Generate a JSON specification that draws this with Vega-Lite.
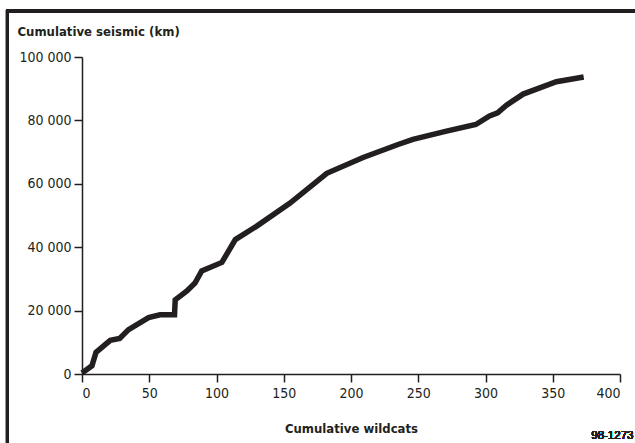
{
  "$schema": "https://vega.github.io/schema/vega-lite/v6.json",
  "autosize": "none",
  "width": 538,
  "height": 317,
  "padding": {"left": 82, "top": 57, "right": 15, "bottom": 69},
  "background": "white",
  "config": {
    "locale": {"number": {"decimal": ".", "thousands": " ", "grouping": [3], "currency": ["", ""]}},
    "view": {"stroke": null},
    "axis": {
      "grid": false,
      "domainColor": "#231f20",
      "domainWidth": 1.5,
      "tickColor": "#231f20",
      "tickWidth": 1.5,
      "tickSize": 8,
      "labelFont": "DejaVu Sans Condensed, Roboto, sans-serif",
      "labelFontSize": 14,
      "labelColor": "#231f20",
      "titleFont": "DejaVu Sans Condensed, Roboto, sans-serif",
      "titleFontSize": 13,
      "titleFontWeight": "bold",
      "titleColor": "#231f20"
    }
  },
  "data": {"values": [
    {"wildcats": 0, "seismic": 300},
    {"wildcats": 7.4, "seismic": 2600},
    {"wildcats": 10.4, "seismic": 6800},
    {"wildcats": 21, "seismic": 10600},
    {"wildcats": 28, "seismic": 11200},
    {"wildcats": 34.6, "seismic": 14000},
    {"wildcats": 49.5, "seismic": 17800},
    {"wildcats": 58, "seismic": 18700},
    {"wildcats": 68.8, "seismic": 18700},
    {"wildcats": 69.3, "seismic": 23400},
    {"wildcats": 78, "seismic": 26200},
    {"wildcats": 84, "seismic": 28700},
    {"wildcats": 89, "seismic": 32500},
    {"wildcats": 104, "seismic": 35200},
    {"wildcats": 114, "seismic": 42400},
    {"wildcats": 129.4, "seismic": 46500},
    {"wildcats": 154.7, "seismic": 53900},
    {"wildcats": 182, "seismic": 63300},
    {"wildcats": 209, "seismic": 68300},
    {"wildcats": 235, "seismic": 72400},
    {"wildcats": 246, "seismic": 74000},
    {"wildcats": 271, "seismic": 76600},
    {"wildcats": 292.8, "seismic": 78700},
    {"wildcats": 303, "seismic": 81400},
    {"wildcats": 309, "seismic": 82400},
    {"wildcats": 315.6, "seismic": 84800},
    {"wildcats": 328, "seismic": 88300},
    {"wildcats": 352.7, "seismic": 92200},
    {"wildcats": 373, "seismic": 93700}
  ]},
  "layer": [
    {
      "mark": {"type": "line", "color": "#231f20", "strokeWidth": 5.5, "strokeCap": "butt"},
      "encoding": {
        "x": {"field": "wildcats", "type": "quantitative",
          "scale": {"domain": [0, 400], "nice": false, "zero": false},
          "axis": {"values": [0, 50, 100, 150, 200, 250, 300, 350, 400], "labelPadding": 4,
            "title": "Cumulative wildcats", "titleY": 58, "titleBaseline": "alphabetic"}},
        "y": {"field": "seismic", "type": "quantitative",
          "scale": {"domain": [0, 100000], "nice": false, "zero": false},
          "axis": {"values": [0, 20000, 40000, 60000, 80000, 100000], "format": ",d", "labelPadding": 3,
            "title": "Cumulative seismic (km)", "titleAngle": 0, "titleAlign": "left",
            "titleBaseline": "alphabetic", "titleX": -65, "titleY": -22}}
      }
    },
    {
      "mark": {"type": "rule", "color": "#231f20", "strokeWidth": 3},
      "encoding": {
        "x": {"datum": -55.4, "type": "quantitative"},
        "y": {"datum": -30000, "type": "quantitative"},
        "y2": {"datum": 115100}
      }
    },
    {
      "mark": {"type": "rule", "color": "#231f20", "strokeWidth": 3},
      "encoding": {
        "x": {"datum": -56.5, "type": "quantitative"},
        "x2": {"datum": 420},
        "y": {"datum": 114600, "type": "quantitative"}
      }
    },
    {
      "mark": {"type": "text", "text": "98-1273", "align": "right", "baseline": "alphabetic",
        "font": "Liberation Sans, Arial, sans-serif", "fontSize": 11.5, "fontWeight": "normal",
        "fill": "#231f20"},
      "encoding": {
        "x": {"datum": 410, "type": "quantitative"},
        "y": {"datum": -20400, "type": "quantitative"}
      }
    }
  ]
}
